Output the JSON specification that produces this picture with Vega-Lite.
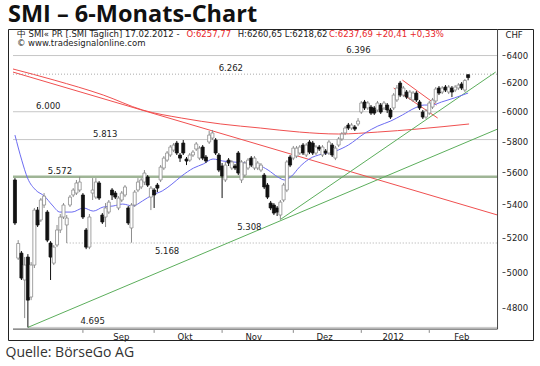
{
  "$schema": "https://vega.github.io/schema/vega-lite/v6.json",
  "width": 525,
  "height": 311,
  "autosize": {"type": "none"},
  "padding": {"left": 8, "top": 29, "right": 7, "bottom": 26},
  "background": "white",
  "title": {"text": "SMI – 6-Monats-Chart", "anchor": "start", "frame": "group", "font": "Open Sans", "fontSize": 23.5, "fontWeight": "bold", "color": "#111", "offset": 2},
  "config": {"view": {"stroke": "#222", "strokeWidth": 1}, "font": "DejaVu Sans"},
  "datasets": {
    "candles": [
      {"i":0,"o":5552,"h":5564,"l":5275,"c":5287},{"i":1,"o":5080,"h":5185,"l":5069,"c":5165},{"i":2,"o":5109,"h":5121,"l":4955,"c":4966},{"i":3,"o":4955,"h":5086,"l":4745,"c":5040},{"i":4,"o":5086,"h":5103,"l":4695,"c":4843},
      {"i":5,"o":4860,"h":5057,"l":4843,"c":5040},{"i":6,"o":5040,"h":5378,"l":5023,"c":5365},{"i":7,"o":5365,"h":5384,"l":5263,"c":5275},{"i":8,"o":5305,"h":5439,"l":5293,"c":5427},{"i":9,"o":5396,"h":5470,"l":5378,"c":5451},
      {"i":10,"o":5353,"h":5365,"l":5173,"c":5185},{"i":11,"o":5168,"h":5179,"l":4955,"c":5086},{"i":12,"o":5051,"h":5156,"l":5040,"c":5144},{"i":13,"o":5156,"h":5275,"l":5144,"c":5245},{"i":14,"o":5245,"h":5341,"l":5227,"c":5323},
      {"i":15,"o":5323,"h":5408,"l":5311,"c":5396},{"i":16,"o":5275,"h":5335,"l":5168,"c":5317},{"i":17,"o":5396,"h":5458,"l":5384,"c":5445},{"i":18,"o":5458,"h":5501,"l":5445,"c":5489},{"i":19,"o":5470,"h":5552,"l":5458,"c":5533},
      {"i":20,"o":5489,"h":5572,"l":5476,"c":5539},{"i":21,"o":5458,"h":5470,"l":5311,"c":5323},{"i":22,"o":5245,"h":5257,"l":5132,"c":5144},{"i":23,"o":5144,"h":5341,"l":5132,"c":5323},{"i":24,"o":5470,"h":5564,"l":5427,"c":5489},
      {"i":25,"o":5445,"h":5564,"l":5433,"c":5539},{"i":26,"o":5533,"h":5545,"l":5427,"c":5439},{"i":27,"o":5335,"h":5347,"l":5281,"c":5293},{"i":28,"o":5323,"h":5408,"l":5263,"c":5378},{"i":29,"o":5353,"h":5427,"l":5341,"c":5414},
      {"i":30,"o":5489,"h":5501,"l":5427,"c":5458},{"i":31,"o":5470,"h":5483,"l":5433,"c":5445},{"i":32,"o":5378,"h":5451,"l":5365,"c":5439},{"i":33,"o":5427,"h":5483,"l":5414,"c":5470},{"i":34,"o":5458,"h":5520,"l":5445,"c":5508},
      {"i":35,"o":5378,"h":5390,"l":5275,"c":5287},{"i":36,"o":5257,"h":5408,"l":5170,"c":5396},{"i":37,"o":5396,"h":5489,"l":5384,"c":5476},{"i":38,"o":5489,"h":5564,"l":5476,"c":5539},{"i":39,"o":5508,"h":5564,"l":5495,"c":5552},
      {"i":40,"o":5539,"h":5615,"l":5520,"c":5596},{"i":41,"o":5571,"h":5583,"l":5508,"c":5520},{"i":42,"o":5445,"h":5514,"l":5365,"c":5501},{"i":43,"o":5489,"h":5501,"l":5378,"c":5458},{"i":44,"o":5520,"h":5533,"l":5476,"c":5501},
      {"i":45,"o":5552,"h":5647,"l":5539,"c":5634},{"i":46,"o":5628,"h":5705,"l":5615,"c":5692},{"i":47,"o":5679,"h":5738,"l":5667,"c":5725},{"i":48,"o":5712,"h":5777,"l":5699,"c":5764},{"i":49,"o":5744,"h":5790,"l":5731,"c":5777},
      {"i":50,"o":5790,"h":5804,"l":5712,"c":5725},{"i":51,"o":5712,"h":5725,"l":5667,"c":5692},{"i":52,"o":5790,"h":5810,"l":5712,"c":5725},{"i":53,"o":5686,"h":5699,"l":5647,"c":5673},{"i":54,"o":5679,"h":5725,"l":5667,"c":5712},
      {"i":55,"o":5712,"h":5744,"l":5699,"c":5731},{"i":56,"o":5751,"h":5797,"l":5738,"c":5784},{"i":57,"o":5692,"h":5771,"l":5679,"c":5757},{"i":58,"o":5764,"h":5777,"l":5679,"c":5692},{"i":59,"o":5699,"h":5712,"l":5660,"c":5673},
      {"i":60,"o":5797,"h":5870,"l":5784,"c":5843},{"i":61,"o":5823,"h":5877,"l":5810,"c":5857},{"i":62,"o":5810,"h":5823,"l":5712,"c":5725},{"i":63,"o":5712,"h":5725,"l":5602,"c":5615},{"i":64,"o":5641,"h":5660,"l":5439,"c":5577},
      {"i":65,"o":5552,"h":5667,"l":5539,"c":5647},{"i":66,"o":5679,"h":5692,"l":5641,"c":5660},{"i":67,"o":5628,"h":5679,"l":5615,"c":5667},{"i":68,"o":5641,"h":5654,"l":5615,"c":5628},{"i":69,"o":5725,"h":5738,"l":5583,"c":5596},
      {"i":70,"o":5552,"h":5679,"l":5533,"c":5667},{"i":71,"o":5583,"h":5673,"l":5571,"c":5660},{"i":72,"o":5628,"h":5692,"l":5615,"c":5679},{"i":73,"o":5692,"h":5705,"l":5634,"c":5647},{"i":74,"o":5628,"h":5705,"l":5615,"c":5692},
      {"i":75,"o":5628,"h":5673,"l":5615,"c":5660},{"i":76,"o":5615,"h":5660,"l":5602,"c":5647},{"i":77,"o":5583,"h":5596,"l":5495,"c":5508},{"i":78,"o":5520,"h":5533,"l":5433,"c":5445},{"i":79,"o":5408,"h":5421,"l":5365,"c":5378},
      {"i":80,"o":5396,"h":5408,"l":5335,"c":5347},{"i":81,"o":5378,"h":5390,"l":5329,"c":5353},{"i":82,"o":5335,"h":5427,"l":5308,"c":5414},{"i":83,"o":5427,"h":5533,"l":5414,"c":5520},{"i":84,"o":5489,"h":5679,"l":5476,"c":5667},
      {"i":85,"o":5699,"h":5712,"l":5634,"c":5647},{"i":86,"o":5692,"h":5771,"l":5679,"c":5757},{"i":87,"o":5705,"h":5771,"l":5692,"c":5757},{"i":88,"o":5725,"h":5777,"l":5712,"c":5764},{"i":89,"o":5777,"h":5790,"l":5712,"c":5725},
      {"i":90,"o":5712,"h":5790,"l":5699,"c":5777},{"i":91,"o":5797,"h":5810,"l":5718,"c":5731},{"i":92,"o":5790,"h":5804,"l":5712,"c":5725},{"i":93,"o":5725,"h":5777,"l":5712,"c":5764},{"i":94,"o":5764,"h":5777,"l":5738,"c":5751},
      {"i":95,"o":5712,"h":5777,"l":5699,"c":5764},{"i":96,"o":5738,"h":5751,"l":5712,"c":5725},{"i":97,"o":5725,"h":5810,"l":5712,"c":5797},{"i":98,"o":5777,"h":5790,"l":5699,"c":5712},{"i":99,"o":5692,"h":5771,"l":5679,"c":5757},
      {"i":100,"o":5777,"h":5830,"l":5764,"c":5817},{"i":101,"o":5817,"h":5863,"l":5804,"c":5850},{"i":102,"o":5857,"h":5903,"l":5843,"c":5890},{"i":103,"o":5910,"h":5924,"l":5877,"c":5890},{"i":104,"o":5890,"h":5924,"l":5877,"c":5910},
      {"i":105,"o":5897,"h":5910,"l":5870,"c":5883},{"i":106,"o":5917,"h":5957,"l":5903,"c":5937},{"i":107,"o":5998,"h":6074,"l":5985,"c":6060},{"i":108,"o":6067,"h":6081,"l":6012,"c":6026},{"i":109,"o":6026,"h":6074,"l":6012,"c":6060},
      {"i":110,"o":6032,"h":6046,"l":5978,"c":5991},{"i":111,"o":6026,"h":6039,"l":5978,"c":5991},{"i":112,"o":6012,"h":6074,"l":5998,"c":6060},{"i":113,"o":6046,"h":6060,"l":5985,"c":5998},{"i":114,"o":6026,"h":6074,"l":6012,"c":6060},
      {"i":115,"o":6046,"h":6060,"l":5991,"c":6012},{"i":116,"o":6012,"h":6026,"l":5951,"c":5964},{"i":117,"o":6026,"h":6129,"l":6012,"c":6115},{"i":118,"o":6081,"h":6185,"l":6067,"c":6164},{"i":119,"o":6199,"h":6214,"l":6101,"c":6115},
      {"i":120,"o":6115,"h":6178,"l":6101,"c":6164},{"i":121,"o":6136,"h":6150,"l":6088,"c":6101},{"i":122,"o":6095,"h":6150,"l":6081,"c":6136},{"i":123,"o":6081,"h":6143,"l":6067,"c":6129},{"i":124,"o":6129,"h":6143,"l":6067,"c":6081},
      {"i":125,"o":6067,"h":6081,"l":6012,"c":6026},{"i":126,"o":5998,"h":6012,"l":5951,"c":5964},{"i":127,"o":5964,"h":6019,"l":5951,"c":6005},{"i":128,"o":5991,"h":6074,"l":5978,"c":6060},{"i":129,"o":6032,"h":6095,"l":6019,"c":6081},
      {"i":130,"o":6074,"h":6171,"l":6060,"c":6157},{"i":131,"o":6164,"h":6178,"l":6115,"c":6129},{"i":132,"o":6136,"h":6178,"l":6122,"c":6164},{"i":133,"o":6171,"h":6185,"l":6136,"c":6150},{"i":134,"o":6136,"h":6185,"l":6122,"c":6171},
      {"i":135,"o":6164,"h":6178,"l":6101,"c":6136},{"i":136,"o":6150,"h":6185,"l":6136,"c":6171},{"i":137,"o":6164,"h":6199,"l":6150,"c":6185},{"i":138,"o":6192,"h":6206,"l":6150,"c":6164},{"i":139,"o":6150,"h":6228,"l":6136,"c":6217.28},
      {"i":140,"o":6257.77,"h":6260.65,"l":6218.62,"c":6237.69}
    ],
    "linien": [
      {"name":"MA200","i":-0.6,"p":6299},{"name":"MA200","i":12.1,"p":6220},{"name":"MA200","i":27.3,"p":6115},{"name":"MA200","i":39.4,"p":6012},{"name":"MA200","i":51.5,"p":5957},{"name":"MA200","i":63.6,"p":5917},{"name":"MA200","i":75.8,"p":5890},{"name":"MA200","i":87.9,"p":5863},{"name":"MA200","i":100,"p":5850},{"name":"MA200","i":112.1,"p":5863},{"name":"MA200","i":124.2,"p":5883},{"name":"MA200","i":140.3,"p":5917},
      {"name":"Abwärtstrend","i":-0.6,"p":6277},{"name":"Abwärtstrend","i":149.1,"p":5335},
      {"name":"Kanal unten","i":117.0,"p":6164},{"name":"Kanal unten","i":130.6,"p":5957},
      {"name":"Kanal oben","i":119.7,"p":6220},{"name":"Kanal oben","i":130.3,"p":6046},
      {"name":"Aufwärtstrend Aug","i":4,"p":4695},{"name":"Aufwärtstrend Aug","i":149.1,"p":5883},
      {"name":"Aufwärtstrend Nov","i":82,"p":5308},{"name":"Aufwärtstrend Nov","i":148.5,"p":6277}
    ],
    "ma20": [
      {"i":0,"p":5843},{"i":2.1,"p":5679},{"i":3.9,"p":5564},{"i":6.4,"p":5489},{"i":9.1,"p":5451},{"i":11.5,"p":5396},{"i":13.9,"p":5353},{"i":17.6,"p":5353},{"i":21.2,"p":5378},{"i":24.2,"p":5359},{"i":27.3,"p":5384},{"i":30.3,"p":5390},{"i":33.3,"p":5402},{"i":36.4,"p":5390},{"i":39.4,"p":5421},{"i":42.4,"p":5458},{"i":45.5,"p":5483},{"i":48.5,"p":5526},{"i":51.5,"p":5577},{"i":55.2,"p":5628},{"i":58.2,"p":5654},{"i":61.2,"p":5686},{"i":64.2,"p":5673},{"i":67.3,"p":5667},{"i":71.2,"p":5660},{"i":75.2,"p":5647},{"i":78.2,"p":5615},{"i":81.2,"p":5571},{"i":83.3,"p":5552},{"i":85.5,"p":5577},{"i":87.9,"p":5634},{"i":90.9,"p":5686},{"i":94.8,"p":5718},{"i":99.1,"p":5738},{"i":103,"p":5777},{"i":108.2,"p":5857},{"i":112.1,"p":5903},{"i":116.1,"p":5937},{"i":119.7,"p":5978},{"i":123.6,"p":6026},{"i":126.4,"p":6046},{"i":128.8,"p":6046},{"i":131.8,"p":6067},{"i":135.8,"p":6095},{"i":140,"p":6129}
    ],
    "levels": [
      {"level":6396,"label":"6.396","start":-0.6,"at":106.1,"side":"oben"},
      {"level":6262,"label":"6.262","start":-0.6,"at":66.7,"side":"oben"},
      {"level":6000,"label":"6.000","start":-0.6,"at":10.3,"side":"oben"},
      {"level":5813,"label":"5.813","start":-0.6,"at":27.9,"side":"oben"},
      {"level":5572,"label":"5.572","start":-0.6,"at":13.9,"side":"oben"},
      {"level":5168,"label":"5.168","start":16,"at":47,"side":"unten"},
      {"level":5308,"label":"5.308","start":null,"at":72.4,"side":"unten"},
      {"level":4695,"label":"4.695","start":4,"at":24,"side":"oben"}
    ],
    "months": [{"m":"Sep","start":21},{"m":"Okt","start":43},{"m":"Nov","start":64},{"m":"Dez","start":86},{"m":"Jan","start":107},{"m":"Feb","start":128}]
  },
  "layer": [
    {
      "data": {"name": "levels"},
      "transform": [{"filter": "datum.level == 6396 || datum.level == 6000 || datum.level == 5813 || datum.level == 4695"}],
      "mark": {"type": "rule", "color": "#c6c6c6", "strokeWidth": 1},
      "encoding": {
        "x": {"field": "start", "type": "quantitative", "scale": {"domain": [-0.6, 158.5], "nice": false, "zero": false},
          "axis": {"orient": "bottom", "offset": -11, "domain": false, "ticks": false, "grid": false, "values": [32.7, 52.4, 73.6, 95.5, 116.7, 137.9],
            "labelExpr": "datum.value < 40 ? 'Sep' : datum.value < 60 ? 'Okt' : datum.value < 80 ? 'Nov' : datum.value < 100 ? 'Dez' : datum.value < 125 ? '2012' : 'Feb'",
            "labelPadding": 3, "labelFont": "DejaVu Sans", "labelFontSize": 8.5, "labelColor": "#222", "labelFlush": false, "labelOverlap": false,
            "title": "Quelle: BörseGo AG", "titleFont": "Open Sans", "titleFontSize": 14, "titleFontWeight": "normal", "titleColor": "#333",
            "titleAnchor": "start", "titleAlign": "left", "titleBaseline": "alphabetic", "titleX": -3, "titleY": 27}},
        "x2": {"datum": 149.09},
        "y": {"field": "level", "type": "quantitative", "scale": {"type": "log", "domain": [4628.2, 6592.1], "nice": false},
          "axis": {"orient": "right", "offset": -31, "domain": false, "ticks": true, "tickSize": 3, "tickColor": "#555", "grid": false,
            "values": [4800, 5000, 5200, 5400, 5600, 5800, 6000, 6200, 6400], "format": "d",
            "labelPadding": 1, "labelFont": "DejaVu Sans", "labelFontSize": 8.5, "labelColor": "#222", "labelFlush": false, "labelOverlap": false,
            "title": "CHF", "titleAngle": 0, "titleAlign": "left", "titleBaseline": "top", "titleX": 3, "titleY": 1,
            "titleFont": "DejaVu Sans", "titleFontSize": 8.5, "titleFontWeight": "normal", "titleColor": "#222"}}
      }
    },
    {
      "data": {"name": "levels"},
      "transform": [{"filter": "datum.level == 6262 || datum.level == 5168"}],
      "mark": {"type": "rule", "color": "#aaaaaa", "strokeWidth": 1, "strokeDash": [1, 2]},
      "encoding": {
        "x": {"field": "start", "type": "quantitative", "scale": {"domain": [-0.6, 158.5], "nice": false, "zero": false}},
        "x2": {"datum": 149.09},
        "y": {"field": "level", "type": "quantitative", "scale": {"type": "log", "domain": [4628.2, 6592.1], "nice": false}}
      }
    },
    {
      "data": {"name": "levels"},
      "transform": [{"filter": "datum.level == 5572"}],
      "mark": {"type": "rule", "color": "#9fb596", "strokeWidth": 2.5},
      "encoding": {
        "x": {"field": "start", "type": "quantitative", "scale": {"domain": [-0.6, 158.5], "nice": false, "zero": false}},
        "x2": {"datum": 149.09},
        "y": {"field": "level", "type": "quantitative", "scale": {"type": "log", "domain": [4628.2, 6592.1], "nice": false}}
      }
    },
    {
      "data": {"name": "linien"},
      "transform": [{"filter": "datum.name == 'MA200' || datum.name == 'Abwärtstrend' || datum.name == 'Kanal unten' || datum.name == 'Kanal oben'"}],
      "mark": {"type": "line", "color": "#f05050", "strokeWidth": 1, "interpolate": "monotone"},
      "encoding": {
        "x": {"field": "i", "type": "quantitative", "scale": {"domain": [-0.6, 158.5], "nice": false, "zero": false}},
        "y": {"field": "p", "type": "quantitative", "scale": {"type": "log", "domain": [4628.2, 6592.1], "nice": false}},
        "detail": {"field": "name", "type": "nominal"}
      }
    },
    {
      "data": {"name": "linien"},
      "transform": [{"filter": "datum.name == 'Aufwärtstrend Aug' || datum.name == 'Aufwärtstrend Nov'"}],
      "mark": {"type": "line", "color": "#5cae5c", "strokeWidth": 1},
      "encoding": {
        "x": {"field": "i", "type": "quantitative", "scale": {"domain": [-0.6, 158.5], "nice": false, "zero": false}},
        "y": {"field": "p", "type": "quantitative", "scale": {"type": "log", "domain": [4628.2, 6592.1], "nice": false}},
        "detail": {"field": "name", "type": "nominal"}
      }
    },
    {
      "data": {"name": "ma20"},
      "mark": {"type": "line", "color": "#6c6cf2", "strokeWidth": 1, "interpolate": "monotone"},
      "encoding": {
        "x": {"field": "i", "type": "quantitative", "scale": {"domain": [-0.6, 158.5], "nice": false, "zero": false}},
        "y": {"field": "p", "type": "quantitative", "scale": {"type": "log", "domain": [4628.2, 6592.1], "nice": false}}
      }
    },
    {
      "data": {"name": "candles"},
      "mark": {"type": "rule", "strokeWidth": 1},
      "encoding": {
        "x": {"field": "i", "type": "quantitative", "scale": {"domain": [-0.6, 158.5], "nice": false, "zero": false}},
        "y": {"field": "l", "type": "quantitative", "scale": {"type": "log", "domain": [4628.2, 6592.1], "nice": false}},
        "y2": {"field": "h"},
        "color": {"condition": {"test": "datum.c >= datum.o", "value": "#8c8c8c"}, "value": "#111111"}
      }
    },
    {
      "data": {"name": "candles"},
      "mark": {"type": "bar", "size": 3, "strokeWidth": 0.8},
      "encoding": {
        "x": {"field": "i", "type": "quantitative", "scale": {"domain": [-0.6, 158.5], "nice": false, "zero": false}},
        "y": {"field": "o", "type": "quantitative", "scale": {"type": "log", "domain": [4628.2, 6592.1], "nice": false}},
        "y2": {"field": "c"},
        "fill": {"condition": {"test": "datum.c >= datum.o", "value": "#ffffff"}, "value": "#111111"},
        "stroke": {"condition": {"test": "datum.c >= datum.o", "value": "#8c8c8c"}, "value": "#111111"}
      }
    },
    {
      "data": {"name": "levels"},
      "transform": [{"filter": "datum.side == 'oben'"}],
      "mark": {"type": "text", "align": "center", "baseline": "alphabetic", "dy": -3, "font": "DejaVu Sans", "fontSize": 8.5, "color": "#222"},
      "encoding": {
        "x": {"field": "at", "type": "quantitative", "scale": {"domain": [-0.6, 158.5], "nice": false, "zero": false}},
        "y": {"field": "level", "type": "quantitative", "scale": {"type": "log", "domain": [4628.2, 6592.1], "nice": false}},
        "text": {"field": "label"}
      }
    },
    {
      "data": {"name": "levels"},
      "transform": [{"filter": "datum.side == 'unten'"}],
      "mark": {"type": "text", "align": "center", "baseline": "top", "dy": 4, "font": "DejaVu Sans", "fontSize": 8.5, "color": "#222"},
      "encoding": {
        "x": {"field": "at", "type": "quantitative", "scale": {"domain": [-0.6, 158.5], "nice": false, "zero": false}},
        "y": {"field": "level", "type": "quantitative", "scale": {"type": "log", "domain": [4628.2, 6592.1], "nice": false}},
        "text": {"field": "label"}
      }
    },
    {
      "data": {"name": "months"},
      "mark": {"type": "rule", "color": "#888888", "strokeWidth": 1},
      "encoding": {
        "x": {"field": "start", "type": "quantitative", "scale": {"domain": [-0.6, 158.5], "nice": false, "zero": false}},
        "y": {"datum": 4680.6, "type": "quantitative", "scale": {"type": "log", "domain": [4628.2, 6592.1], "nice": false}},
        "y2": {"datum": 4666}
      }
    },
    {
      "data": {"values": [{}]},
      "mark": {"type": "rule", "color": "#444444", "strokeWidth": 1},
      "encoding": {
        "x": {"datum": -0.6, "type": "quantitative", "scale": {"domain": [-0.6, 158.5], "nice": false, "zero": false}},
        "x2": {"datum": 149.09},
        "y": {"datum": 4685.9, "type": "quantitative", "scale": {"type": "log", "domain": [4628.2, 6592.1], "nice": false}}
      }
    },
    {
      "data": {"values": [{}]},
      "mark": {"type": "rule", "color": "#444444", "strokeWidth": 1},
      "encoding": {
        "x": {"datum": 149.09, "type": "quantitative", "scale": {"domain": [-0.6, 158.5], "nice": false, "zero": false}},
        "y": {"datum": 4685.9, "type": "quantitative", "scale": {"type": "log", "domain": [4628.2, 6592.1], "nice": false}},
        "y2": {"datum": 6592.1}
      }
    },
    {
      "data": {"values": [{}]},
      "mark": {"type": "text", "align": "left", "baseline": "alphabetic", "font": "DejaVu Sans", "fontSize": 8.5, "color": "#222", "text": "中 SMI« PR [.SMI  Täglich] 17.02.2012 -"},
      "encoding": {
        "x": {"datum": 0.6, "type": "quantitative", "scale": {"domain": [-0.6, 158.5], "nice": false, "zero": false}},
        "y": {"datum": 6535, "type": "quantitative", "scale": {"type": "log", "domain": [4628.2, 6592.1], "nice": false}}
      }
    },
    {
      "data": {"values": [{}]},
      "mark": {"type": "text", "align": "left", "baseline": "alphabetic", "font": "DejaVu Sans", "fontSize": 8.5, "color": "#e8262a", "text": "O:6257,77"},
      "encoding": {
        "x": {"datum": 53.0, "type": "quantitative", "scale": {"domain": [-0.6, 158.5], "nice": false, "zero": false}},
        "y": {"datum": 6535, "type": "quantitative", "scale": {"type": "log", "domain": [4628.2, 6592.1], "nice": false}}
      }
    },
    {
      "data": {"values": [{}]},
      "mark": {"type": "text", "align": "left", "baseline": "alphabetic", "font": "DejaVu Sans", "fontSize": 8.5, "color": "#222", "text": "H:6260,65 L:6218,62"},
      "encoding": {
        "x": {"datum": 68.8, "type": "quantitative", "scale": {"domain": [-0.6, 158.5], "nice": false, "zero": false}},
        "y": {"datum": 6535, "type": "quantitative", "scale": {"type": "log", "domain": [4628.2, 6592.1], "nice": false}}
      }
    },
    {
      "data": {"values": [{}]},
      "mark": {"type": "text", "align": "left", "baseline": "alphabetic", "font": "DejaVu Sans", "fontSize": 8.5, "color": "#e8262a", "text": "C:6237,69 +20,41 +0,33%"},
      "encoding": {
        "x": {"datum": 97.0, "type": "quantitative", "scale": {"domain": [-0.6, 158.5], "nice": false, "zero": false}},
        "y": {"datum": 6535, "type": "quantitative", "scale": {"type": "log", "domain": [4628.2, 6592.1], "nice": false}}
      }
    },
    {
      "data": {"values": [{}]},
      "mark": {"type": "text", "align": "left", "baseline": "alphabetic", "font": "DejaVu Sans", "fontSize": 8.5, "color": "#222", "text": "© www.tradesignalonline.com"},
      "encoding": {
        "x": {"datum": 0.6, "type": "quantitative", "scale": {"domain": [-0.6, 158.5], "nice": false, "zero": false}},
        "y": {"datum": 6465.9, "type": "quantitative", "scale": {"type": "log", "domain": [4628.2, 6592.1], "nice": false}}
      }
    }
  ]
}
